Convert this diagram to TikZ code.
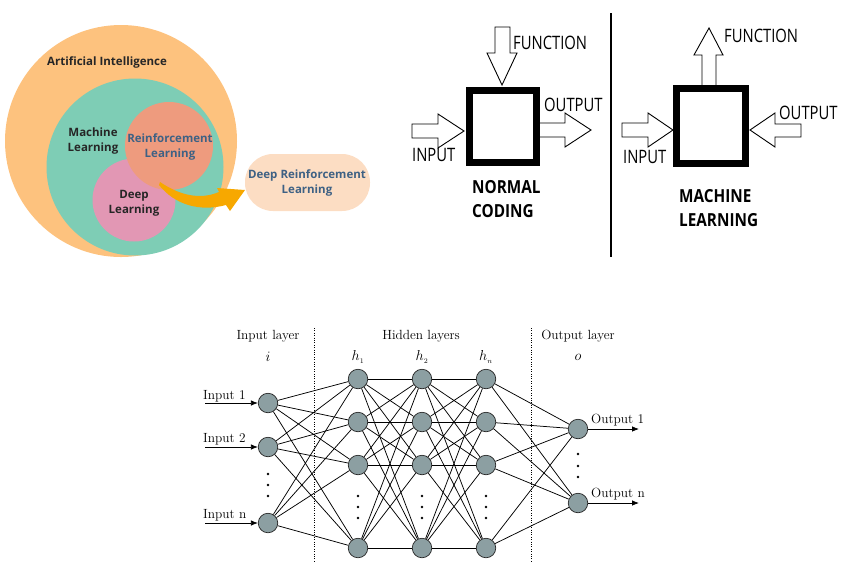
\documentclass[tikz,border=0pt]{standalone}
\usepackage{fontspec}
\newfontfamily\osans{Open Sans}
\newfontfamily\cfont[FakeStretch=0.8]{Open Sans}
\newfontfamily\cbold[FakeStretch=0.85]{Open Sans}
\usetikzlibrary{arrows.meta}
\definecolor{aiorange}{HTML}{FDC27E}
\definecolor{mlgreen}{HTML}{7ECDB5}
\definecolor{rlsalmon}{HTML}{EE9B7E}
\definecolor{dlpink}{HTML}{E297B4}
\definecolor{drlpeach}{HTML}{FCDDC3}
\definecolor{arroworange}{HTML}{F7A800}
\definecolor{vblue}{HTML}{3E6184}
\definecolor{vdark}{HTML}{262626}
\definecolor{neuroncol}{HTML}{8C9FA2}
\tikzset{
  venn/.style={circle, inner sep=0pt},
  vtext/.style={font=\osans\bfseries\fontsize{11.5}{15}\selectfont, text=vdark, align=center, inner sep=0pt},
  vbtext/.style={vtext, text=vblue},
  blockarrow/.style={draw=black, fill=white, line width=0.9pt, line join=miter},
  codebox/.style={draw=black, fill=white, line width=7pt, inner sep=0pt},
  ctext/.style={font=\cfont\fontsize{18.5}{20}\selectfont, anchor=west, inner sep=0pt},
  cbtext/.style={font=\cbold\bfseries\fontsize{18}{24}\selectfont, anchor=west, align=left, inner sep=0pt},
  neuron/.style={circle, fill=neuroncol, draw=black!85, line width=0.7pt, minimum size=19.5pt, inner sep=0pt},
  conn/.style={line width=0.75pt},
  nntext/.style={font=\fontsize{13.3}{15}\selectfont, inner sep=0pt},
  sep/.style={line width=0.75pt, dash pattern=on 1pt off 1.4pt},
  ioarrow/.style={line width=0.75pt, -{Latex[length=7pt,width=5.5pt]}}
}
\begin{document}
\begin{tikzpicture}[x=1pt, y=-1pt]
\useasboundingbox (0,0) rectangle (843,563);
% ---------------- Venn diagram ----------------
\node[venn, fill=aiorange, minimum size=232pt] (ai) at (121,141) {};
\node[venn, fill=mlgreen, minimum size=177pt] (ml) at (135,167) {};
\node[venn, fill=dlpink, minimum size=83pt] (dl) at (134,200) {};
\node[venn, fill=rlsalmon, minimum size=88pt] (rl) at (169,146) {};
\node[fill=drlpeach, rounded corners=28pt, minimum width=125pt, minimum height=57pt, inner sep=0pt] (drl) at (307.5,182.5) {};
\fill[arroworange] (160,182) .. controls (185,199) and (205,198) .. (219,192)
  -- (217,188) -- (245,190) -- (230,211) -- (226,205)
  .. controls (200,212) and (175,205) .. (159,185) -- cycle;
\node[vtext] (ait) at (107,62) {Artificial Intelligence};
\node[vtext] (mlt) at (93,141.5) {Machine\\Learning};
\node[vbtext] (rlt) at (170,147) {Reinforcement\\Learning};
\node[vtext] (dlt) at (134,203) {Deep\\Learning};
\node[vbtext] (drlt) at (307,183) {Deep Reinforcement\\Learning};
% ---------------- Normal coding ----------------
\draw[blockarrow] (412,124) -- (438,124) -- (438,114) -- (464,131) -- (438,148) -- (438,138) -- (412,138) -- cycle;
\draw[blockarrow] (530,123) -- (565,123) -- (565,113) -- (591,130) -- (565,147) -- (565,137) -- (530,137) -- cycle;
\draw[blockarrow] (495,27) -- (510,27) -- (510,53) -- (517,53) -- (502,85) -- (487,53) -- (495,53) -- cycle;
\node[codebox, minimum width=67pt, minimum height=72pt] (box1) at (503,126.5) {};
\node[ctext] (f1) at (513,43) {FUNCTION};
\node[ctext] (o1t) at (544,105) {OUTPUT};
\node[ctext] (i1t) at (412,155) {INPUT};
\node[cbtext] (nc) at (472,199.5) {NORMAL\\CODING};
% divider
\coordinate (d1) at (611,13);
\coordinate (d2) at (611,257);
\draw[line width=2.5pt] (d1) -- (d2);
% ---------------- Machine learning ----------------
\draw[blockarrow] (622,123) -- (648,123) -- (648,113) -- (673,130) -- (648,147) -- (648,137) -- (622,137) -- cycle;
\draw[blockarrow] (801,124) -- (775,124) -- (775,113) -- (750,130) -- (775,147) -- (775,137) -- (801,137) -- cycle;
\draw[blockarrow] (702,95) -- (702,55) -- (694,55) -- (709,28) -- (723,55) -- (716,55) -- (716,95) -- cycle;
\node[codebox, minimum width=69pt, minimum height=75pt] (box2) at (711,126) {};
\node[ctext] (f2) at (724,36) {FUNCTION};
\node[ctext] (o2t) at (779,113) {OUTPUT};
\node[ctext] (i2t) at (623,157) {INPUT};
\node[cbtext] (mlc) at (679,208) {MACHINE\\LEARNING};
% ---------------- Neural network ----------------
\coordinate (s1a) at (314,328); \coordinate (s1b) at (314,563);
\coordinate (s2a) at (531,328); \coordinate (s2b) at (531,563);
\draw[sep] (s1a) -- (s1b);
\draw[sep] (s2a) -- (s2b);
\node[nntext] (lin) at (268,336) {Input layer};
\node[nntext] (lhid) at (421,336) {Hidden layers};
\node[nntext] (lout) at (578,336) {Output layer};
\node[nntext] (li) at (268,357) {$i$};
\node[nntext] (lh1) at (358,357) {$h_{\scriptscriptstyle 1}$};
\node[nntext] (lh2) at (422,357) {$h_{\scriptscriptstyle 2}$};
\node[nntext] (lhn) at (486,357) {$h_{\scriptscriptstyle n}$};
\node[nntext] (lo) at (578,357) {$o$};
% neurons
\node[neuron] (i1) at (268,403) {};
\node[neuron] (i2) at (268,447) {};
\node[neuron] (i3) at (268,523) {};
\foreach \c/\x in {a/358,b/422,c/486}{
  \node[neuron] (\c1) at (\x,379) {};
  \node[neuron] (\c2) at (\x,422) {};
  \node[neuron] (\c3) at (\x,465) {};
  \node[neuron] (\c4) at (\x,548) {};
  \foreach \y in {496,507,518} \fill (\x,\y) circle (1.3pt);
}
\node[neuron] (o1) at (578,429) {};
\node[neuron] (o2) at (578,503) {};
\foreach \y in {474,485,496} \fill (268,\y) circle (1.3pt);
\foreach \y in {454,466,477} \fill (578,\y) circle (1.3pt);
% connections
\foreach \p in {i1,i2,i3} \foreach \q in {a1,a2,a3,a4} \draw[conn] (\p) -- (\q);
\foreach \p in {a1,a2,a3,a4} \foreach \q in {b1,b2,b3,b4} \draw[conn] (\p) -- (\q);
\foreach \p in {b1,b2,b3,b4} \foreach \q in {c1,c2,c3,c4} \draw[conn] (\p) -- (\q);
\foreach \p in {c1,c2,c3,c4} \foreach \q in {o1,o2} \draw[conn] (\p) -- (\q);
% inputs and outputs
\coordinate (in1) at (205,403);
\coordinate (in2) at (205,447);
\coordinate (in3) at (205,523);
\draw[ioarrow] (in1) -- (i1);
\draw[ioarrow] (in2) -- (i2);
\draw[ioarrow] (in3) -- (i3);
\node[nntext, anchor=west] (t1) at (203,396) {Input 1};
\node[nntext, anchor=west] (t2) at (203,439) {Input 2};
\node[nntext, anchor=west] (t3) at (203,515) {Input n};
\coordinate (out1) at (639,429);
\coordinate (out2) at (639,503);
\draw[ioarrow] (o1) -- (out1);
\draw[ioarrow] (o2) -- (out2);
\node[nntext, anchor=west] (u1) at (591,420) {Output 1};
\node[nntext, anchor=west] (u2) at (591,494) {Output n};
\end{tikzpicture}
\end{document}
